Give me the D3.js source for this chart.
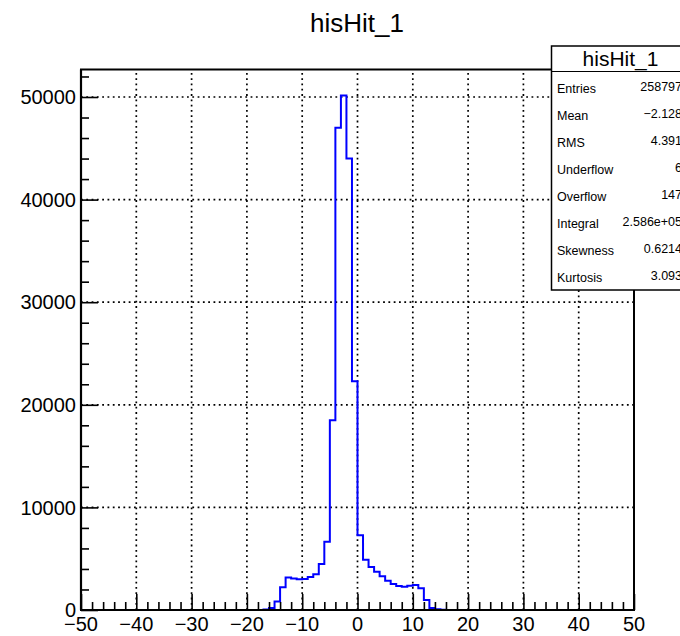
<!DOCTYPE html>
<html>
<head>
<meta charset="utf-8">
<script src="https://cdn.jsdelivr.net/npm/d3@7"></script>
<style>
  html, body { margin: 0; padding: 0; background: #fff; }
  svg { display: block; font-family: "Liberation Sans", Arial, Helvetica, sans-serif; }
</style>
</head>
<body>
<svg id="chart" width="680" height="636"></svg>
<script>
// ---- data ----
const title = "hisHit_1";
const xDomain = [-50, 50];
const yMax = 52680;
// low edges of the non-empty bins (bin width 1)
const binStarts = [-17, -16, -15, -14, -13, -12, -11, -10, -9, -8, -7, -6, -5, -4, -3, -2, -1,
                   0, 1, 2, 3, 4, 5, 6, 7, 8, 9, 10, 11, 12, 13, 14, 15];
const counts = [40, 200, 820, 2220, 3170, 3060, 2990, 3020, 3220, 3480, 4480, 6660, 18500, 47000, 50150, 44000, 22300,
                7280, 4900, 4190, 3740, 3280, 2860, 2540, 2340, 2270, 2370, 2440, 2110, 980, 200, 65, 20];
const binWidth = 1;
const xTicksMajor = [-50, -40, -30, -20, -10, 0, 10, 20, 30, 40, 50];
const yTicksMajor = [0, 10000, 20000, 30000, 40000, 50000];
const statsLabels = ["Entries", "Mean", "RMS", "Underflow", "Overflow", "Integral", "Skewness", "Kurtosis"];
const statsValues = ["258797", "\u22122.128", "4.391", "6", "147", "2.586e+05", "0.6214", "3.093"];

// ---- layout ----
const svg = d3.select("#chart");
const L = 81, R = 634, T = 69.5, B = 610;
const x = d3.scaleLinear().domain(xDomain).range([L, R]);
const y = d3.scaleLinear().domain([0, yMax]).range([B, T]);

// grid (dotted)
const grid = svg.append("g").attr("stroke", "#000").attr("stroke-width", 1.7)
  .attr("stroke-dasharray", "1.8 3.5");
xTicksMajor.slice(1, -1).forEach(v => {
  grid.append("line").attr("x1", x(v)).attr("x2", x(v)).attr("y1", B).attr("y2", T);
});
yTicksMajor.slice(1).forEach(v => {
  grid.append("line").attr("x1", L).attr("x2", R).attr("y1", y(v)).attr("y2", y(v));
});

// histogram step path
const pts = [[xDomain[0], 0]];
binStarts.forEach((b, i) => {
  pts.push([b, counts[i]]);
  pts.push([b + binWidth, counts[i]]);
});
pts.push([binStarts[binStarts.length - 1] + binWidth, 0]);
pts.push([xDomain[1], 0]);
const line = d3.line().x(d => x(d[0])).y(d => y(d[1]));
const path = [pts[0]];
for (let i = 1; i < pts.length; i++) {
  const prev = path[path.length - 1];
  const p = pts[i];
  if (p[0] !== prev[0] && p[1] !== prev[1]) path.push([p[0], prev[1]]);
  path.push(p);
}
svg.append("path").attr("d", line(path)).attr("fill", "none")
  .attr("stroke", "#0000ff").attr("stroke-width", 2);

// frame
svg.append("rect").attr("x", L).attr("y", T).attr("width", R - L).attr("height", B - T)
  .attr("fill", "none").attr("stroke", "#000").attr("stroke-width", 2);

// axes
const xAxis = d3.axisBottom(x).tickValues(d3.range(-50, 51, 2)).tickSize(-8).tickFormat("");
const gx = svg.append("g").attr("transform", `translate(0,${B})`).call(xAxis);
gx.select(".domain").remove();
gx.selectAll(".tick line").attr("stroke", "#000").attr("stroke-width", 1.6)
  .attr("y2", d => (d % 10 === 0 ? -16 : -8));
const yAxis = d3.axisLeft(y).tickValues(d3.range(0, 52001, 2000)).tickSize(-8).tickFormat("");
const gy = svg.append("g").attr("transform", `translate(${L},0)`).call(yAxis);
gy.select(".domain").remove();
gy.selectAll(".tick line").attr("stroke", "#000").attr("stroke-width", 1.6)
  .attr("x2", d => (d % 10000 === 0 ? 17 : 8));

// axis lines
svg.append("line").attr("x1", L).attr("x2", R).attr("y1", B).attr("y2", B)
  .attr("stroke", "#000").attr("stroke-width", 2.2);
svg.append("line").attr("x1", L).attr("x2", L).attr("y1", B).attr("y2", T)
  .attr("stroke", "#000").attr("stroke-width", 2.2);

// tick labels
svg.append("g").selectAll("text").data(xTicksMajor).join("text")
  .attr("x", d => x(d)).attr("y", 631).attr("text-anchor", "middle")
  .attr("font-size", 20).attr("fill", "#000")
  .text(d => d < 0 ? "\u2212" + Math.abs(d) : String(d));
svg.append("g").selectAll("text").data(yTicksMajor).join("text")
  .attr("x", 76).attr("y", d => y(d)).attr("dy", "0.36em").attr("text-anchor", "end")
  .attr("font-size", 20).attr("fill", "#000")
  .text(d => String(d));

// title
svg.append("text").attr("x", 357).attr("y", 32).attr("text-anchor", "middle")
  .attr("font-size", 26).attr("fill", "#000").text(title);

// stats box
const bx = 551.5, by = 46, bw = 138, bh = 244, titleH = 25.5;
svg.append("rect").attr("x", bx).attr("y", by).attr("width", bw).attr("height", bh)
  .attr("fill", "#fff").attr("stroke", "#000").attr("stroke-width", 1.5);
svg.append("line").attr("x1", bx).attr("x2", bx + bw).attr("y1", by + titleH).attr("y2", by + titleH)
  .attr("stroke", "#000").attr("stroke-width", 1.2);
svg.append("text").attr("x", bx + bw / 2).attr("y", by + titleH / 2).attr("dy", "0.36em")
  .attr("text-anchor", "middle").attr("font-size", 21).attr("fill", "#000").text(title);
const rowStart = 88, rowH = 27;
const rows = svg.append("g");
statsLabels.forEach((lab, i) => {
  const cy = rowStart + rowH * i;
  rows.append("text").attr("x", 557).attr("y", cy).attr("dy", "0.36em")
    .attr("font-size", 12.5).attr("fill", "#000").text(lab);
  rows.append("text").attr("x", 682).attr("y", cy - 1.5).attr("dy", "0.36em")
    .attr("text-anchor", "end").attr("font-size", 12.5).attr("fill", "#000").text(statsValues[i]);
});
</script>
</body>
</html>
